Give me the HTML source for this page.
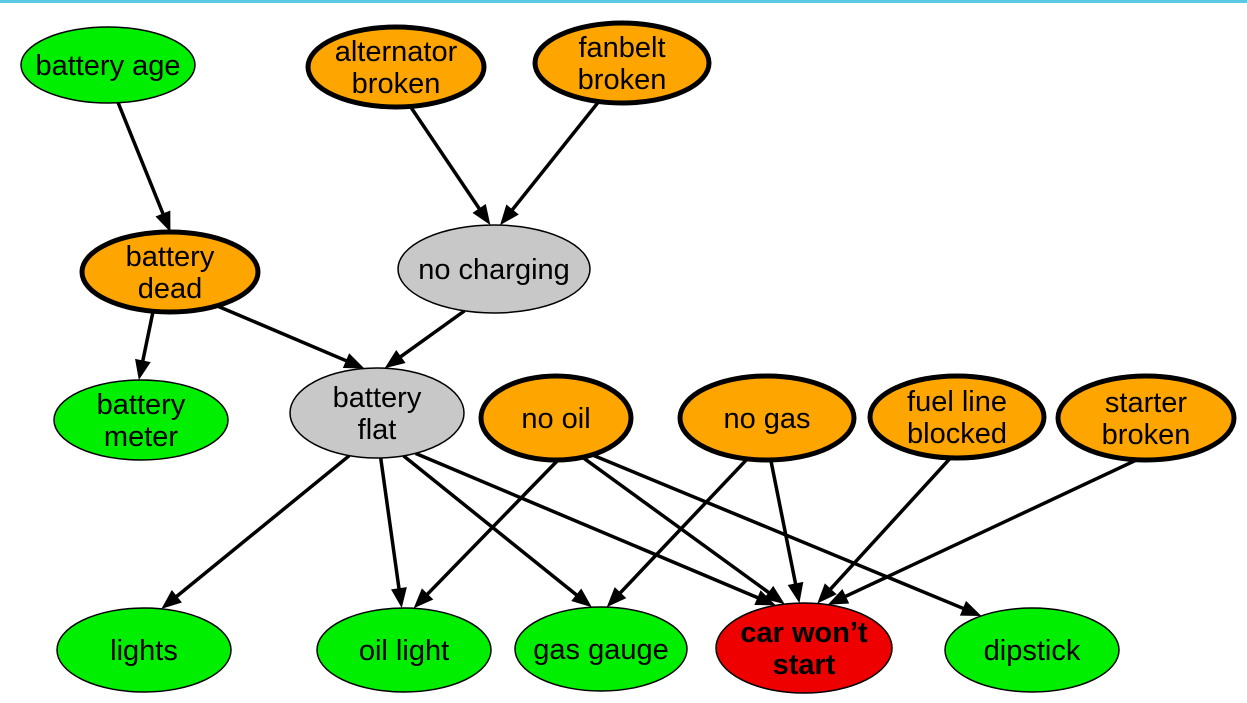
<!DOCTYPE html>
<html><head><meta charset="utf-8"><style>
html,body{margin:0;padding:0;background:#fff;}
svg{display:block;}
text{font-family:"Liberation Sans",Arial,sans-serif;font-size:29px;fill:#000;}
</style></head><body>
<svg id="g" width="1247" height="703" viewBox="0 0 1247 703">
<rect x="0" y="0" width="1247" height="3" fill="#5bc8e6"></rect>
<g id="edges"></g><g id="nodes"></g>
</svg>
<script>
const nodeIds=["age","alt","fan","dead","charge","meter","flat","oil","gas","fuel","starter","lights","oillight","gauge","car","dip"];
const nodeLabels=[["battery age"],["alternator","broken"],["fanbelt","broken"],["battery","dead"],["no charging"],["battery","meter"],["battery","flat"],["no oil"],["no gas"],["fuel line","blocked"],["starter","broken"],["lights"],["oil light"],["gas gauge"],["car won’t","start"],["dipstick"]];
const nodeKinds=["obs","cause","cause","cause","hidden","obs","hidden","cause","cause","cause","cause","obs","obs","obs","target","obs"];
const nodeCx=[108,396,622,170,494,141,377,556,767,957,1146,144,404,601,804,1032];
const nodeCy=[65,67,63,272,269,420,413,418,418,417,418,650,650,649,648,650];
const nodeRx=[87,88,87,88,96,87,87,75,87,87,88,87,87,86,88,87];
const nodeRy=[38,40,40,40,44,40,45,42,42,41,42,42,42,42,45,42];
const edgeFrom=["age","alt","fan","dead","dead","charge","flat","flat","flat","flat","oil","oil","oil","gas","gas","fuel","starter"];
const edgeTo=["dead","charge","charge","meter","flat","flat","lights","oillight","gauge","car","oillight","car","dip","gauge","car","car","car"];
const edgeFromOff=[[7,30],[8,30],[-18,32],[-15,30],[38,30],[-20,35],[-22,38],[3,40],[23,40],[33,38],[6,38],[22,36],[34,36],[-17,38],[3,38],[-2,36],[-1,38]];
const edgeToOff=[[2,-36],[-1,-40],[3,-40],[-3,-36],[-2,-40],[1,-40],[16,-40],[-2,-40],[-7,-40],[-22,-40],[8,-40],[-14,-40],[-48,-33],[4,-40],[-4,-42],[11,-42],[21,-42]];
const fills={obs:"#00ee00",cause:"#ffa500",hidden:"#c8c8c8",target:"#ee0000"};
const NS="http://www.w3.org/2000/svg";
const E=document.getElementById("edges"),N=document.getElementById("nodes");
function idx(id){return nodeIds.indexOf(id);}
function inside(i,x,y){const dx=(x-nodeCx[i])/nodeRx[i],dy=(y-nodeCy[i])/nodeRy[i];return dx*dx+dy*dy<=1;}
edgeFrom.forEach((f,k)=>{
  const i=idx(f),j=idx(edgeTo[k]);
  const ax=nodeCx[i]+edgeFromOff[k][0],ay=nodeCy[i]+edgeFromOff[k][1];
  const bx0=nodeCx[j]+edgeToOff[k][0],by0=nodeCy[j]+edgeToOff[k][1];
  let ts=0,te=1;
  for(let t=0;t<=1;t+=0.0005){if(!inside(i,ax+(bx0-ax)*t,ay+(by0-ay)*t)){ts=t;break;}}
  for(let t=ts;t<=1;t+=0.0005){if(inside(j,ax+(bx0-ax)*t,ay+(by0-ay)*t)){te=t;break;}}
  const x1=ax+(bx0-ax)*ts,y1=ay+(by0-ay)*ts,x2=ax+(bx0-ax)*te,y2=ay+(by0-ay)*te;
  const L=Math.hypot(x2-x1,y2-y1),ux=(x2-x1)/L,uy=(y2-y1)/L;
  const hl=20,hw=8;
  const bx=x2-ux*hl,by=y2-uy*hl;
  const line=document.createElementNS(NS,"line");
  
  
  line.setAttribute("x1",x1);line.setAttribute("y1",y1);line.setAttribute("x2",bx+ux*2);line.setAttribute("y2",by+uy*2);
  line.setAttribute("stroke","#000");line.setAttribute("stroke-width","3.5");
  E.appendChild(line);
  const head=document.createElementNS(NS,"polygon");
  
  
  head.setAttribute("points",x2+","+y2+" "+(bx-uy*hw)+","+(by+ux*hw)+" "+(bx+uy*hw)+","+(by-ux*hw));
  head.setAttribute("fill","#000");
  E.appendChild(head);
});
nodeIds.forEach((id,i)=>{
  const g=document.createElementNS(NS,"g");
  
  
  const el=document.createElementNS(NS,"ellipse");
  
  
  el.setAttribute("cx",nodeCx[i]);el.setAttribute("cy",nodeCy[i]);
  el.setAttribute("rx",nodeRx[i]);el.setAttribute("ry",nodeRy[i]);
  el.setAttribute("fill",fills[nodeKinds[i]]);el.setAttribute("stroke","#000");
  el.setAttribute("stroke-width",nodeKinds[i]==="cause"?"5":"1.5");
  g.appendChild(el);
  const lines=nodeLabels[i];
  lines.forEach((t,li)=>{
    const tx=document.createElementNS(NS,"text");
    
    
    tx.setAttribute("x",nodeCx[i]);
    tx.setAttribute("y",nodeCy[i]+10+(li-(lines.length-1)/2)*32);
    tx.setAttribute("text-anchor","middle");
    if(nodeKinds[i]==="target"){tx.setAttribute("font-weight","bold");}
    tx.textContent=t;g.appendChild(tx);
  });
  N.appendChild(g);
});
</script>
</body></html>
